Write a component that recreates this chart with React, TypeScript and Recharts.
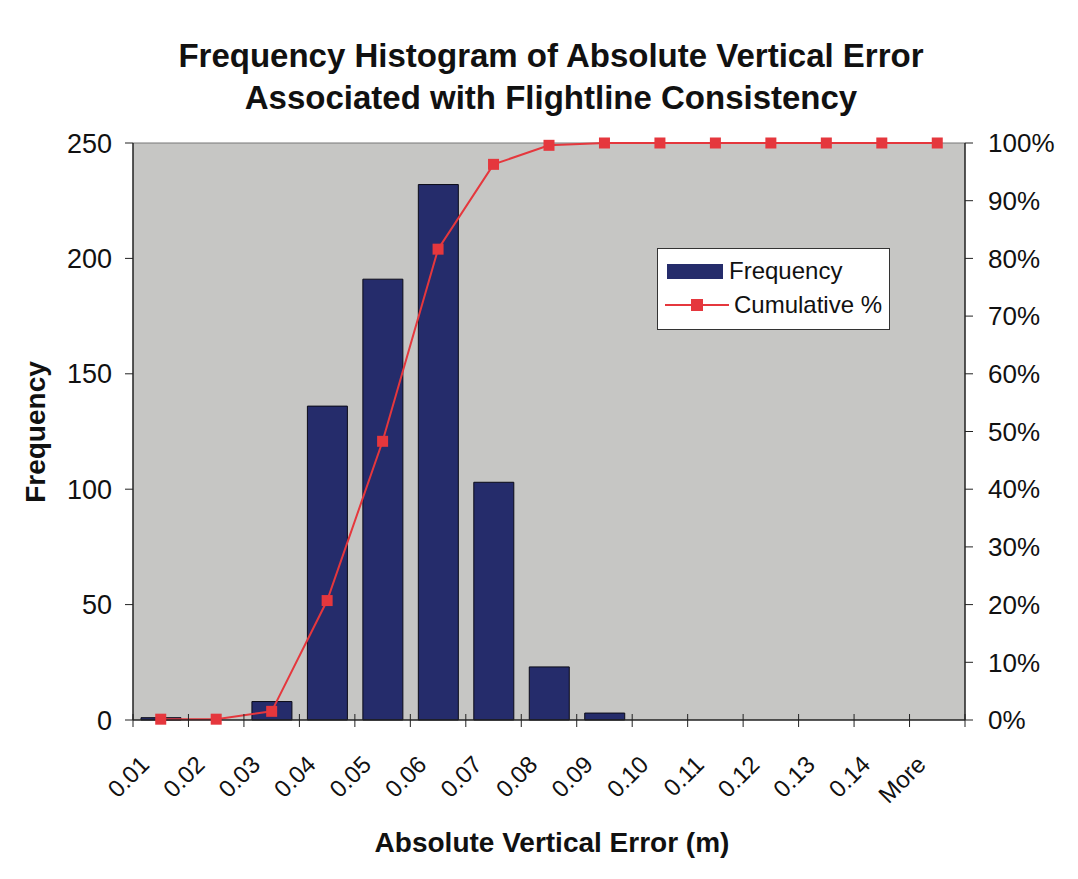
import { ComposedChart, Bar, Line, XAxis, YAxis, CartesianGrid, ReferenceLine } from "recharts";

const bins = ["0.01", "0.02", "0.03", "0.04", "0.05", "0.06", "0.07", "0.08", "0.09", "0.10", "0.11", "0.12", "0.13", "0.14", "More"];
const frequency = [1, 0, 8, 136, 191, 232, 103, 23, 3, 0, 0, 0, 0, 0, 0];
const cumulative = [0.14, 0.14, 1.5, 20.7, 48.3, 81.6, 96.3, 99.6, 100, 100, 100, 100, 100, 100, 100];
const freqTicks = [0, 50, 100, 150, 200, 250];
const pctTicks = [0, 10, 20, 30, 40, 50, 60, 70, 80, 90, 100];

const data = bins.map((bin, i) => ({ bin, frequency: frequency[i], cumulative: cumulative[i] }));

const font = "'Liberation Sans', Arial, sans-serif";
const navy = "#252c6b";
const red = "#e5373d";

// label rotated like Excel, plus tick marks on the bin edges
function BinTick(props: any) {
  const { x, y, payload, index, visibleTicksCount } = props;
  const half = payload && payload.offset ? payload.offset : 27.7;
  const axisY = y - 8;
  const ax = x - 10;
  const ay = y + 38;
  const last = index === visibleTicksCount - 1;
  return (
    <g>
      <line x1={x - half} y1={axisY - 6} x2={x - half} y2={axisY + 7} stroke="#222" />
      {last && <line x1={x + half} y1={axisY - 6} x2={x + half} y2={axisY + 7} stroke="#222" />}
      <text
        x={ax}
        y={ay}
        transform={`rotate(-45 ${ax} ${ay})`}
        textAnchor="end"
        fontSize={24}
        fontFamily={font}
        fill="#111"
      >
        {payload.value}
      </text>
    </g>
  );
}

function SquareDot(props: any) {
  const { cx, cy } = props;
  if (cx == null || cy == null) return null;
  return <rect x={cx - 5.5} y={cy - 5.5} width={11} height={11} fill={red} />;
}

function LegendBox() {
  return (
    <div
      style={{
        position: "absolute",
        left: 649,
        top: 240,
        background: "#fff",
        border: "1px solid #333",
        width: 233,
        height: 82,
        boxSizing: "border-box",
        fontFamily: font,
        fontSize: 24,
        color: "#111",
        padding: "5px 0 5px 7px",
        whiteSpace: "nowrap",
      }}
    >
      <div style={{ display: "flex", alignItems: "center", height: 34 }}>
        <span style={{ display: "inline-block", width: 56, height: 15, background: navy, marginLeft: 2, marginRight: 6 }} />
        Frequency
      </div>
      <div style={{ display: "flex", alignItems: "center", height: 34 }}>
        <svg width={64} height={14} style={{ marginRight: 5, flex: "none" }}>
          <line x1={0} y1={7} x2={64} y2={7} stroke={red} strokeWidth={2} />
          <rect x={26} y={1} width={12} height={12} fill={red} />
        </svg>
        Cumulative %
      </div>
    </div>
  );
}

export default function App() {
  return (
    <div style={{ position: "relative", width: 1062, height: 863, background: "#fff", fontFamily: font }}>
      <ComposedChart
        width={1062}
        height={863}
        data={data}
        margin={{ top: 135, right: 20, left: 20, bottom: 51 }}
      >
        <CartesianGrid fill="#c6c6c4" horizontal={false} vertical={false} stroke="none" yAxisId="freq" xAxisId="cat" />
        <XAxis
          xAxisId="cat"
          dataKey="bin"
          height={100}
          interval={0}
          tick={<BinTick />}
          tickLine={false}
          axisLine={{ stroke: "#222", strokeWidth: 1.5 }}
        />
        <YAxis
          yAxisId="freq"
          domain={[0, 250]}
          ticks={freqTicks}
          width={105}
          tickSize={8}
          tickMargin={13}
          tick={{ fontSize: 27, fill: "#111", fontFamily: font }}
          axisLine={{ stroke: "#222", strokeWidth: 1.5 }}
          tickLine={{ stroke: "#222" }}
        />
        <YAxis
          yAxisId="pct"
          orientation="right"
          domain={[0, 100]}
          ticks={pctTicks}
          width={85}
          tickSize={8}
          tickMargin={15}
          tickFormatter={(v: number) => `${v}%`}
          tick={{ fontSize: 26, fill: "#111", fontFamily: font, textAnchor: "start" }}
          axisLine={{ stroke: "#222", strokeWidth: 1.5 }}
          tickLine={{ stroke: "#222" }}
        />
        <ReferenceLine yAxisId="freq" xAxisId="cat" y={250} stroke="#777" />
        <Bar
          xAxisId="cat"
          yAxisId="freq"
          dataKey="frequency"
          name="Frequency"
          fill={navy}
          stroke="#0b0b18"
          strokeWidth={1}
          barSize={40}
          isAnimationActive={false}
        />
        <Line
          xAxisId="cat"
          yAxisId="pct"
          dataKey="cumulative"
          name="Cumulative %"
          type="linear"
          stroke={red}
          strokeWidth={2}
          dot={<SquareDot />}
          activeDot={false}
          isAnimationActive={false}
        />
      </ComposedChart>
      <div
        style={{
          position: "absolute",
          left: 0,
          width: 1086,
          top: 27,
          textAlign: "center",
          fontWeight: "bold",
          fontSize: 33,
          lineHeight: "42px",
          color: "#111",
        }}
      >
        Frequency Histogram of Absolute Vertical Error
        <br />
        Associated with Flightline Consistency
      </div>
      <div
        style={{
          position: "absolute",
          left: 28,
          top: 424,
          transform: "translate(-50%, -50%) rotate(-90deg)",
          fontWeight: "bold",
          fontSize: 28,
          color: "#111",
          whiteSpace: "nowrap",
        }}
      >
        Frequency
      </div>
      <div
        style={{
          position: "absolute",
          left: 544,
          top: 835,
          transform: "translate(-50%, -50%)",
          fontWeight: "bold",
          fontSize: 28,
          color: "#111",
          whiteSpace: "nowrap",
        }}
      >
        Absolute Vertical Error (m)
      </div>
      <LegendBox />
    </div>
  );
}
